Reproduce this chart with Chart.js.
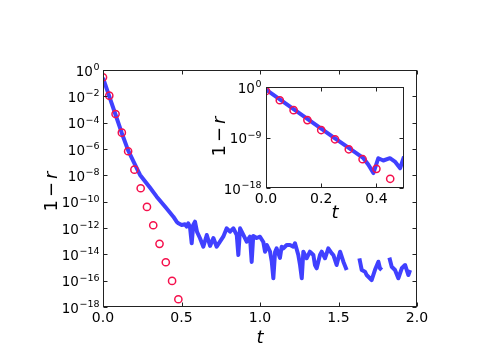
<!DOCTYPE html>
<html>
<head>
<meta charset="utf-8">
<script src="https://cdn.jsdelivr.net/npm/chart.js@4.4.0/dist/chart.umd.min.js"></script>
<style>
html, body { margin: 0; padding: 0; background: #fff; }
#wrap { position: relative; width: 498px; height: 360px; }
#wrap canvas { position: absolute; left: 0; top: 0; }
</style>
</head>
<body>
<div id="wrap">
  <canvas id="mainChart" width="498" height="360"></canvas>
  <canvas id="insetChart" width="498" height="360"></canvas>
</div>
<script>
// values are stored as log10(1 - r)

// main panel, circles
var mainDotT = [0, 0.04, 0.08, 0.12, 0.16, 0.20, 0.24, 0.28, 0.32, 0.36, 0.40, 0.44, 0.48];
var mainDotLog = [-0.55, -1.95, -3.34, -4.76, -6.17, -7.57, -8.98, -10.4, -11.79, -13.2, -14.6, -16.02, -17.41];

// main panel, blue line (null = gap)
var mainLineT = [
    0, 0.04, 0.08, 0.12, 0.16, 0.20, 0.236, 0.30, 0.342, 0.40,
    0.448, 0.469, 0.480, 0.501, 0.522, 0.533, 0.543, 0.554, 0.565, 0.575,
    0.586, 0.599, 0.618, 0.639, 0.661, 0.682, 0.703, 0.724, 0.745, 0.766,
    0.788, 0.809, 0.830, 0.852, 0.862, 0.873, 0.894, 0.915, 0.936, 0.947,
    0.957, 0.979, 1.000, 1.021, 1.032, 1.043, 1.064, 1.075, 1.085, 1.096,
    1.106, 1.127, 1.138, 1.149, 1.170, 1.191, 1.212, 1.223, 1.244, 1.255,
    1.266, 1.276, 1.297, 1.318, 1.340, 1.350, 1.361, 1.382, 1.393, 1.414,
    1.435, 1.457, 1.467, 1.488, 1.499, 1.510, 1.531, 1.552, 1.59, 1.633,
    1.648, 1.669, 1.679, 1.711, 1.732, 1.754, 1.764, 1.775, 1.80, 1.824,
    1.839, 1.860, 1.881, 1.903, 1.924, 1.945, 1.956
];
var mainLineLog = [
    -0.6, -2.0, -3.4, -4.8, -6.1, -7.1, -7.97, -8.95, -9.62, -10.45,
    -11.14, -11.52, -11.64, -11.77, -11.72, -11.9, -11.64, -11.92, -13.16, -11.77,
    -11.52, -12.3, -12.78, -13.42, -12.53, -13.36, -12.76, -13.42, -13.04, -12.66,
    -12.02, -12.28, -12.02, -12.53, -14.05, -12.02, -12.53, -13.04, -12.66, -14.58,
    -12.6, -12.76, -12.66, -13.06, -13.8, -13.29, -13.8, -14.56, -15.82, -13.82,
    -13.54, -14.27, -13.42, -13.54, -13.29, -13.29, -13.42, -13.16, -14.05, -14.81,
    -15.82, -13.8, -14.3, -13.8, -14.05, -14.81, -15.06, -14.05, -13.8, -14.3,
    -13.54, -13.92, -14.05, -14.81, -14.3, -13.8, -14.56, -15.19, null, -14.3,
    -15.19, -15.32, -15.57, -15.95, -15.19, -14.56, -15.06, -15.19, null, -14.25,
    -14.94, -15.19, -15.82, -15.06, -14.81, -15.57, -15.19
];

// inset
var insetDotT = [0, 0.05, 0.10, 0.15, 0.20, 0.25, 0.30, 0.35, 0.40, 0.45];
var insetDotLog = [-0.71, -2.36, -4.13, -5.9, -7.67, -9.32, -11.1, -12.87, -14.59, -16.36];
var insetLineT = [0, 0.10, 0.20, 0.25, 0.30, 0.353, 0.371, 0.389, 0.407, 0.425, 0.449, 0.467, 0.486, 0.50];
var insetLineLog = [-0.46, -3.95, -7.4, -9.15, -10.85, -12.69, -13.84, -15.34, -12.69, -13.1, -12.69, -13.29, -14.46, -12.4];

// ticks
var mainXTicks = [0, 0.5, 1.0, 1.5, 2.0];
var mainYTickExp = [0, -2, -4, -6, -8, -10, -12, -14, -16, -18];
var insetXTicks = [0, 0.2, 0.4];
var insetYTickExp = [0, -9, -18];

var blue = 'rgba(0, 0, 255, 0.75)';
var red = '#f5104c';
var FONT = "'DejaVu Sans', sans-serif";

Chart.defaults.font.family = FONT;
Chart.defaults.color = '#000';

function toPoints(ts, logs){
    return ts.map(function(t, i){
        return {x: t, y: logs[i] === null ? null : Math.pow(10, logs[i])};
    });
}

function expLabel(e){
    return String(e).replace('-', '\u2212');
}

// frame, inward ticks, 10^n labels and axis titles
function decor(cfg){
    return {
        id: 'decor',
        beforeDraw: function(chart){
            var a = chart.chartArea, ctx = chart.ctx;
            ctx.save();
            ctx.fillStyle = '#fff';
            ctx.fillRect(a.left, a.top, a.right - a.left, a.bottom - a.top);
            ctx.restore();
        },
        afterDraw: function(chart){
            var ctx = chart.ctx, a = chart.chartArea;
            var xs = chart.scales.x, ys = chart.scales.y;
            var L = Math.round(a.left) + 0.5, R = Math.round(a.right) - 0.5;
            var T = Math.round(a.top) + 0.5, B = Math.round(a.bottom) - 0.5;
            ctx.save();
            ctx.strokeStyle = '#222';
            ctx.lineWidth = 1;
            ctx.strokeRect(L, T, R - L, B - T);
            ctx.beginPath();
            cfg.xTicks.forEach(function(v){
                var px = Math.round(xs.getPixelForValue(v)) + 0.5;
                ctx.moveTo(px, B); ctx.lineTo(px, B - 4);
                ctx.moveTo(px, T); ctx.lineTo(px, T + 4);
            });
            cfg.yTickExp.forEach(function(e){
                var py = Math.round(ys.getPixelForValue(Math.pow(10, e))) + 0.5;
                ctx.moveTo(L, py); ctx.lineTo(L + 4, py);
                ctx.moveTo(R, py); ctx.lineTo(R - 4, py);
            });
            ctx.stroke();

            // y tick labels as 10 with a raised exponent
            ctx.fillStyle = '#000';
            ctx.textBaseline = 'alphabetic';
            ctx.textAlign = 'left';
            cfg.yTickExp.forEach(function(e){
                var py = ys.getPixelForValue(Math.pow(10, e));
                var ex = expLabel(e);
                ctx.font = '13.5px ' + FONT;
                var w1 = ctx.measureText('10').width;
                ctx.font = '9.5px ' + FONT;
                var w2 = ctx.measureText(ex).width;
                var x0 = a.left - cfg.labelGap - w1 - w2;
                ctx.font = '13.5px ' + FONT;
                ctx.fillText('10', x0, py + 5.5);
                ctx.font = '9.5px ' + FONT;
                ctx.fillText(ex, x0 + w1 + 0.5, py);
            });

            // x title: t
            ctx.font = 'italic 18px ' + FONT;
            ctx.textAlign = 'center';
            ctx.fillText('t', (a.left + a.right) / 2, cfg.xTitleY);

            // y title: 1 − r, rotated
            ctx.translate(cfg.yTitleX, (a.top + a.bottom) / 2 + cfg.yTitleShift);
            ctx.rotate(-Math.PI / 2);
            ctx.textAlign = 'left';
            ctx.font = '18px ' + FONT;
            var wa = ctx.measureText('1').width;
            var wb = ctx.measureText('\u2212').width;
            ctx.font = 'italic 18px ' + FONT;
            var wc = ctx.measureText('r').width;
            var gap = 3;
            var x = -(wa + wb + wc + 2 * gap) / 2;
            ctx.font = '18px ' + FONT;
            ctx.fillText('1', x, 0);
            ctx.fillText('\u2212', x + wa + gap, 0);
            ctx.font = 'italic 18px ' + FONT;
            ctx.fillText('r', x + wa + wb + 2 * gap, 0);
            ctx.restore();
        }
    };
}

function makeChart(id, opt){
    return new Chart(document.getElementById(id).getContext('2d'), {
        type: 'line',
        data: {
            datasets: [{
                data: toPoints(opt.dotT, opt.dotLog),
                showLine: false,
                pointRadius: 3.6,
                pointBorderWidth: 1.5,
                pointBorderColor: red,
                pointBackgroundColor: 'rgba(0,0,0,0)',
                borderColor: red
            }, {
                data: toPoints(opt.lineT, opt.lineLog),
                borderColor: blue,
                borderWidth: 4,
                pointRadius: 0,
                tension: 0,
                spanGaps: false,
                borderJoinStyle: 'round'
            }]
        },
        options: {
            responsive: false,
            animation: false,
            events: [],
            layout: { padding: opt.padding },
            plugins: { legend: { display: false }, tooltip: { enabled: false } },
            scales: {
                x: {
                    type: 'linear',
                    min: 0,
                    max: opt.xMax,
                    grid: { display: false, drawTicks: false },
                    border: { display: false },
                    afterBuildTicks: function(s){
                        s.ticks = opt.xTicks.map(function(v){ return {value: v}; });
                    },
                    afterFit: function(s){ s.height = opt.xAxisH; },
                    ticks: {
                        padding: 3,
                        maxRotation: 0,
                        font: { size: 14 },
                        color: '#000',
                        callback: function(v){ return v.toFixed(1); }
                    }
                },
                y: {
                    type: 'logarithmic',
                    min: 1e-18,
                    max: 1,
                    grid: { display: false, drawTicks: false },
                    border: { display: false },
                    afterFit: function(s){ s.width = opt.yAxisW; },
                    ticks: { display: false }
                }
            }
        },
        plugins: [decor(opt)]
    });
}

makeChart('mainChart', {
    dotT: mainDotT, dotLog: mainDotLog,
    lineT: mainLineT, lineLog: mainLineLog,
    xMax: 2, xTicks: mainXTicks, yTickExp: mainYTickExp,
    padding: { left: 0, top: 70, right: 81, bottom: 0 },
    yAxisW: 103, xAxisH: 53,
    labelGap: 4, xTitleY: 343, yTitleX: 56.5, yTitleShift: 3
});

makeChart('insetChart', {
    dotT: insetDotT, dotLog: insetDotLog,
    lineT: insetLineT, lineLog: insetLineLog,
    xMax: 0.5, xTicks: insetXTicks, yTickExp: insetYTickExp,
    padding: { left: 0, top: 87, right: 94, bottom: 0 },
    yAxisW: 266, xAxisH: 172,
    labelGap: 5, xTitleY: 218, yTitleX: 225, yTitleShift: -1
});
</script>
</body>
</html>
